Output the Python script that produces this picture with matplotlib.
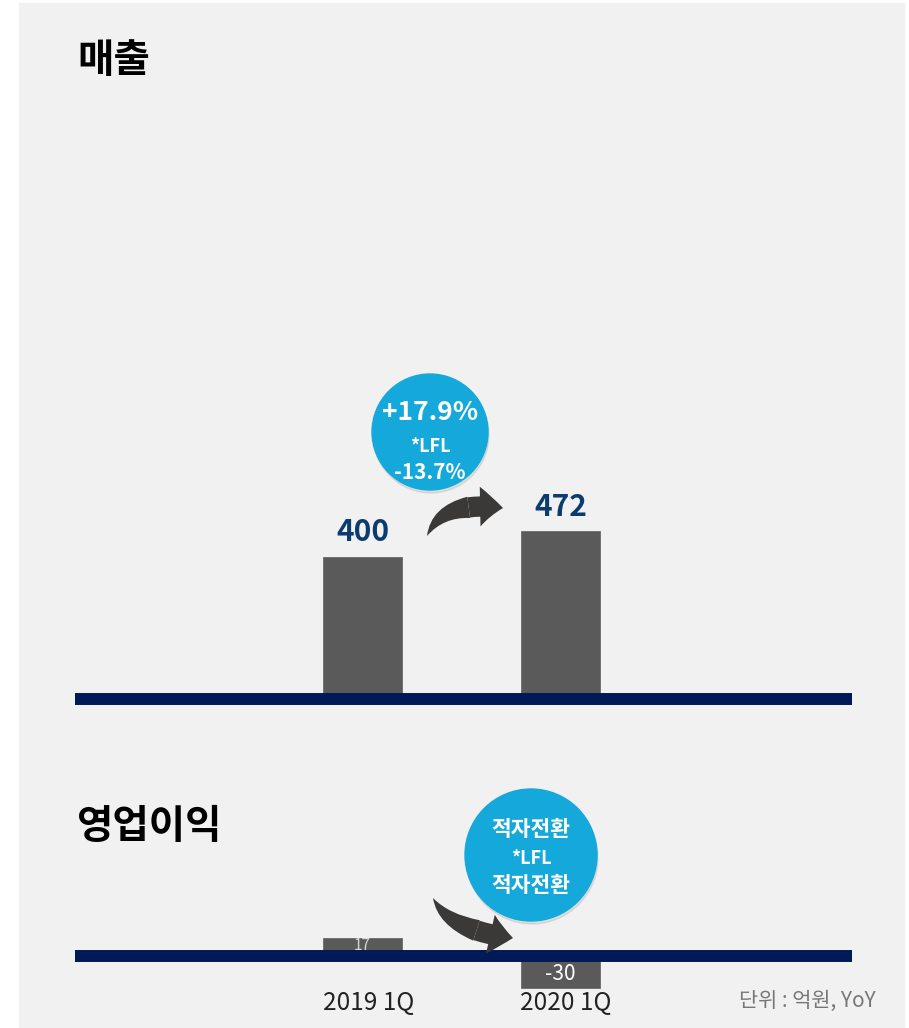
import matplotlib.pyplot as plt
from matplotlib.patches import Rectangle, Circle, FancyArrowPatch
from matplotlib.path import Path

plt.rcParams['font.family'] = ['Noto Sans CJK KR', 'DejaVu Sans']

# 데이터
periods = ['2019 1Q', '2020 1Q']
sales = [400, 472]
op_profit = [17, -30]
sales_badge = ['+17.9%', '*LFL', '-13.7%']
op_badge = ['적자전환', '*LFL', '적자전환']

W, H = 909, 1028
fig = plt.figure(figsize=(W / 100, H / 100), dpi=100, facecolor='white')

def fx(px):
    return px / W

def fy(py):
    return 1 - py / H

# 회색 배경 패널
fig.add_artist(Rectangle((fx(19), fy(1028)), fx(904) - fx(19), fy(3) - fy(1028),
                         transform=fig.transFigure, color='#f1f1f1', zorder=0))

navy = '#001a57'
bar_c = '#5a5a5a'
blue = '#15a9db'
x = [0, 1]
xlim = (-1.452, 2.472)

# ---- 매출 ----
s1 = 0.355  # px per 억원
b1 = 699
ax1 = fig.add_axes([fx(75), fy(720), fx(852) - fx(75), fy(100) - fy(720)])
ax1.set_xlim(*xlim)
ax1.set_ylim(-(720 - b1) / s1, (b1 - 100) / s1)
ax1.bar(x, sales, width=0.4, color=bar_c, edgecolor='#6a6a6a', linewidth=0.6, zorder=2)
ax1.axhline(0, color=navy, linewidth=8.6, zorder=3)
for xi, v in zip(x, sales):
    ax1.annotate(str(v), (xi, v), xytext=(0, 7), textcoords='offset points',
                 ha='center', va='bottom', fontsize=21.5, color='#0c3b70', fontweight='bold')
ax1.axis('off')

# ---- 영업이익 ----
s2 = 1.064
b2 = 956
ax2 = fig.add_axes([fx(75), fy(995), fx(852) - fx(75), fy(780) - fy(995)])
ax2.set_xlim(*xlim)
ax2.set_ylim(-(995 - b2) / s2, (b2 - 780) / s2)
ax2.bar(x, op_profit, width=0.4, color=bar_c, edgecolor='#6a6a6a', linewidth=0.6, zorder=2)
ax2.axhline(0, color=navy, linewidth=8.6, zorder=4)
ax2.text(x[0], op_profit[0] - 7, str(op_profit[0]), ha='center', va='center',
         fontsize=11, color='#d8d8d8', zorder=3)
ax2.text(x[1], op_profit[1] / 2 - 2, str(op_profit[1]), ha='center', va='center',
         fontsize=15, color='white', zorder=3)
ax2.axis('off')


# 곡선 화살표 (꼬리는 가늘고 머리 쪽으로 굵어짐)
def curved_arrow(p0, c, p1, s=0.68, w=0.7, ms=22, color='#3b3838'):
    P0 = (fx(p0[0]), fy(p0[1]))
    C = (fx(c[0]), fy(c[1]))
    P1 = (fx(p1[0]), fy(p1[1]))
    c1 = (P0[0] + s * (C[0] - P0[0]), P0[1] + s * (C[1] - P0[1]))
    q = ((1 - s) * C[0] + s * P1[0], (1 - s) * C[1] + s * P1[1])
    ps = ((1 - s) ** 2 * P0[0] + 2 * s * (1 - s) * C[0] + s ** 2 * P1[0],
          (1 - s) ** 2 * P0[1] + 2 * s * (1 - s) * C[1] + s ** 2 * P1[1])
    codes = [Path.MOVETO, Path.CURVE3, Path.CURVE3]
    body = FancyArrowPatch(path=Path([ps, c1, P0], codes),
                           arrowstyle=f'wedge,tail_width={w},shrink_factor=0.6',
                           mutation_scale=ms, color=color, transform=fig.transFigure,
                           zorder=4, linewidth=0)
    head = FancyArrowPatch(path=Path([ps, q, P1], codes),
                           arrowstyle=f'simple,head_length=0.75,head_width=1.3,tail_width={w * 0.95}',
                           mutation_scale=ms, color=color, transform=fig.transFigure,
                           zorder=4, linewidth=0)
    fig.add_artist(body)
    fig.add_artist(head)

curved_arrow((427, 536), (442, 500), (503, 508))
curved_arrow((433, 898), (448, 930), (513, 938))

# 제목
fig.text(fx(77), fy(61), '매출', fontsize=28.5, fontweight='bold', va='center', ha='left', color='black')
fig.text(fx(77), fy(827), '영업이익', fontsize=28.5, fontweight='bold', va='center', ha='left', color='black')

# x 라벨
for px, lab in zip([369, 566], periods):
    fig.text(fx(px), fy(1003), lab, fontsize=17.5, ha='center', va='center', color='#222222',
             fontweight='light')
fig.text(fx(876), fy(1001), '단위 : 억원, YoY', fontsize=15, ha='right', va='center', color='#777777',
         fontweight='light')


# 배지 (원)
def badge(cx, cy, r, lines, sizes, ys):
    fig.add_artist(Circle(((cx + 1) / 100, (H - cy - 3) / 100), r / 100,
                          transform=fig.dpi_scale_trans, color='#000000', alpha=0.08, zorder=5))
    fig.add_artist(Circle((cx / 100, (H - cy) / 100), r / 100,
                          transform=fig.dpi_scale_trans, color=blue, zorder=6))
    for t, fs, py in zip(lines, sizes, ys):
        fig.text(fx(cx), fy(py), t, fontsize=fs, ha='center', va='center', color='white',
                 zorder=7, fontweight='bold')

badge(430, 432, 58, sales_badge, [19, 13, 15], [412, 446, 473])
badge(531, 855, 66, op_badge, [15.5, 13, 15.5], [829, 858, 886])

fig.savefig('out.png', dpi=100, facecolor='white')
